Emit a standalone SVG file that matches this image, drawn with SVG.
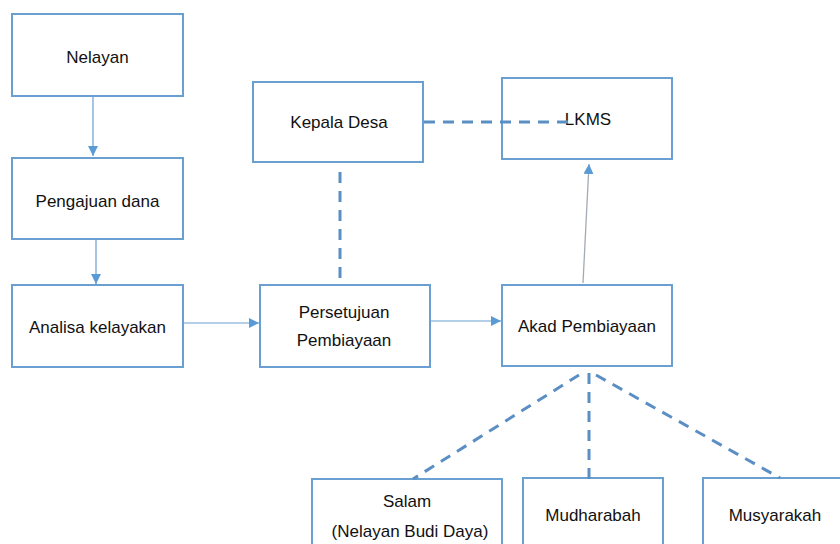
<svg xmlns="http://www.w3.org/2000/svg" width="840" height="544" viewBox="0 0 840 544">
<style>
.box{fill:#fff;stroke:#6a9fd2;stroke-width:2}
.t{font-family:"Liberation Sans",Arial,sans-serif;font-size:17px;fill:#111;text-anchor:middle}
.arr{stroke:#6a9fd2;stroke-width:1.2;fill:none}
.dash{stroke:#5b8fc4;stroke-width:3;fill:none;stroke-dasharray:11 8}
</style>
<defs>
<marker id="ah" viewBox="0 0 10 10" refX="10" refY="5" markerWidth="10" markerHeight="10" markerUnits="userSpaceOnUse" orient="auto">
<path d="M0,0 L10,5 L0,10 Z" fill="#5b9bd5"/>
</marker>
</defs>
<rect width="840" height="544" fill="#fff"/>
<g id="nelayan"><rect class="box" x="12" y="14" width="171" height="82"/><text class="t" x="97.5" y="63">Nelayan</text></g>
<g id="pengajuan"><rect class="box" x="12" y="158" width="171" height="81"/><text class="t" x="97.5" y="207">Pengajuan dana</text></g>
<g id="analisa"><rect class="box" x="12" y="285" width="171" height="82"/><text class="t" x="97.5" y="333">Analisa kelayakan</text></g>
<g id="kepala"><rect class="box" x="253" y="82" width="170" height="80"/><text class="t" x="339" y="128">Kepala Desa</text></g>
<g id="lkms"><rect class="box" x="502" y="78" width="170" height="81"/><text class="t" x="588" y="125">LKMS</text></g>
<g id="persetujuan"><rect class="box" x="260" y="285" width="170" height="82"/><text class="t" x="344" y="318">Persetujuan</text><text class="t" x="344" y="346">Pembiayaan</text></g>
<g id="akad"><rect class="box" x="502" y="285" width="170" height="81"/><text class="t" x="587" y="332">Akad Pembiayaan</text></g>
<g id="salam"><rect class="box" x="312" y="479" width="190" height="80"/><text class="t" x="407" y="507">Salam</text><text class="t" x="410" y="537">(Nelayan Budi Daya)</text></g>
<g id="mudharabah"><rect class="box" x="523" y="478" width="140" height="80"/><text class="t" x="593" y="521">Mudharabah</text></g>
<g id="musyarakah"><rect class="box" x="703" y="478" width="150" height="80"/><text class="t" x="775" y="521">Musyarakah</text></g>
<g id="connectors">
<line class="arr" x1="93" y1="96" x2="93" y2="156" marker-end="url(#ah)"/>
<line class="arr" x1="96" y1="239" x2="96" y2="284" marker-end="url(#ah)"/>
<line class="arr" x1="183" y1="323" x2="259" y2="323" marker-end="url(#ah)"/>
<line class="arr" x1="431" y1="321" x2="501" y2="321" marker-end="url(#ah)"/>
<line x1="583" y1="283" x2="589" y2="164" stroke="#a3aab3" stroke-width="1.3" marker-end="url(#ah)"/>
<line class="dash" x1="424" y1="122" x2="572" y2="122"/>
<line class="dash" x1="340" y1="172" x2="340" y2="284"/>
<line class="dash" x1="579" y1="375" x2="413" y2="479"/>
<line class="dash" x1="589" y1="373" x2="589" y2="486"/>
<line class="dash" x1="596" y1="375" x2="780" y2="478"/>
</g>
</svg>
